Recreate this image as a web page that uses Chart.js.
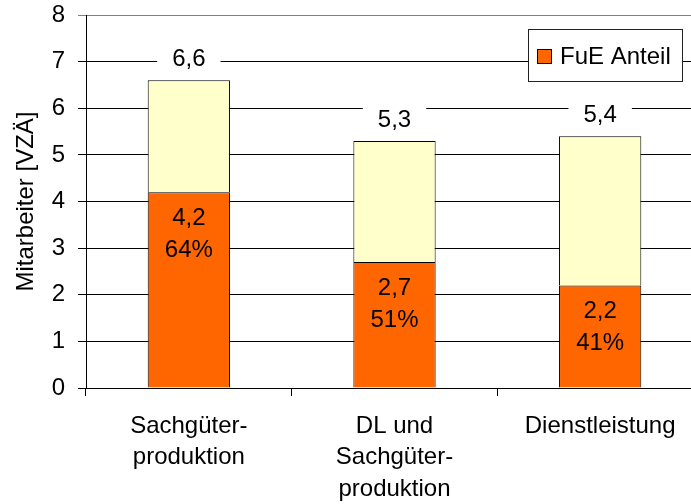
<!DOCTYPE html>
<html>
<head>
<meta charset="utf-8">
<script src="https://cdn.jsdelivr.net/npm/chart.js@4"></script>
<style>
  html, body { margin: 0; padding: 0; background: #fff; }
  #wrap { width: 691px; height: 504px; overflow: hidden; }
  #wrap canvas { display: block; }
</style>
</head>
<body>
<div id="wrap"><canvas id="chart" width="704" height="504"></canvas></div>
<script>
const categories = [['Sachgüter-', 'produktion'], ['DL und', 'Sachgüter-', 'produktion'], ['Dienstleistung']];
const fueValues = [4.2, 2.7, 2.2];
const restValues = [2.4, 2.6, 3.2];
const totalLabels = ['6,6', '5,3', '5,4'];
const fueLabels = ['4,2', '2,7', '2,2'];
const percentLabels = ['64%', '51%', '41%'];

const FONT = '"Liberation Sans", Arial, sans-serif';

// value labels inside the orange part and above each bar
const valueLabels = {
    id: 'valueLabels',
    afterDatasetsDraw(chart) {
        const ctx = chart.ctx;
        const fueMeta = chart.getDatasetMeta(0);
        const restMeta = chart.getDatasetMeta(1);
        ctx.save();
        ctx.font = '24px ' + FONT;
        ctx.fillStyle = '#000';
        ctx.textAlign = 'center';
        ctx.textBaseline = 'middle';
        fueMeta.data.forEach((bar, i) => {
            ctx.fillText(fueLabels[i], bar.x, bar.y + 26);
            ctx.fillText(percentLabels[i], bar.x, bar.y + 58);
        });
        restMeta.data.forEach((bar, i) => {
            const y = bar.y - 21;
            const w = ctx.measureText(totalLabels[i]).width + 30;
            ctx.fillStyle = '#fff';
            ctx.fillRect(bar.x - w / 2, y - 13, w, 26);
            ctx.fillStyle = '#000';
            ctx.fillText(totalLabels[i], bar.x, y);
        });
        ctx.restore();
    }
};

// boxed legend in the upper right corner (only the FuE series)
const boxLegend = {
    id: 'boxLegend',
    afterDraw(chart) {
        const ctx = chart.ctx;
        const ds = chart.data.datasets[0];
        ctx.save();
        ctx.fillStyle = '#fff';
        ctx.fillRect(528, 30, 154, 52);
        ctx.strokeStyle = '#222';
        ctx.lineWidth = 1;
        ctx.strokeRect(528.5, 29.5, 154, 52);
        ctx.fillStyle = ds.backgroundColor;
        ctx.fillRect(537, 49, 15, 15);
        ctx.strokeStyle = '#000';
        ctx.strokeRect(537.5, 49.5, 14, 14);
        ctx.fillStyle = '#000';
        ctx.font = '24px ' + FONT;
        ctx.textAlign = 'left';
        ctx.textBaseline = 'middle';
        ctx.fillText(ds.label, 560, 57);
        ctx.restore();
    }
};

new Chart(document.getElementById('chart'), {
    type: 'bar',
    data: {
        labels: categories,
        datasets: [{
            label: 'FuE Anteil',
            data: fueValues,
            backgroundColor: '#FF6600',
            borderColor: '#000',
            borderWidth: 1
        }, {
            label: 'Rest',
            data: restValues,
            backgroundColor: '#FFFFCC',
            borderColor: '#000',
            borderWidth: 1
        }]
    },
    options: {
        responsive: false,
        animation: false,
        layout: { padding: { top: 15, right: 1, left: 0, bottom: 0 } },
        datasets: {
            bar: { categoryPercentage: 1, barPercentage: 0.4 }
        },
        plugins: {
            legend: { display: false },
            tooltip: { enabled: false }
        },
        scales: {
            x: {
                stacked: true,
                afterFit: scale => {
                    scale.height = 116;
                    scale.paddingLeft = 0;
                    scale.paddingRight = 0;
                },
                border: { color: '#000', width: 1 },
                grid: { display: true, drawOnChartArea: false, drawTicks: true, tickLength: 8, color: '#000', offset: true },
                ticks: {
                    color: '#000',
                    padding: 15,
                    maxRotation: 0,
                    autoSkip: false,
                    font: { family: FONT, size: 24, lineHeight: 1.3 }
                }
            },
            y: {
                stacked: true,
                min: 0,
                max: 8,
                afterFit: scale => {
                    scale.width = 86;
                    scale.paddingTop = 0;
                    scale.paddingBottom = 0;
                },
                border: { color: '#000', width: 1 },
                grid: {
                    color: c => (c.tick && c.tick.value === 8 ? '#808080' : '#000'),
                    tickLength: 8
                },
                ticks: {
                    stepSize: 1,
                    color: '#000',
                    padding: 13,
                    font: { family: FONT, size: 24 }
                },
                title: {
                    display: true,
                    text: 'Mitarbeiter [VZÄ]',
                    color: '#000',
                    padding: { top: 12, bottom: 0 },
                    font: { family: FONT, size: 24 }
                }
            }
        }
    },
    plugins: [valueLabels, boxLegend]
});
</script>
</body>
</html>
